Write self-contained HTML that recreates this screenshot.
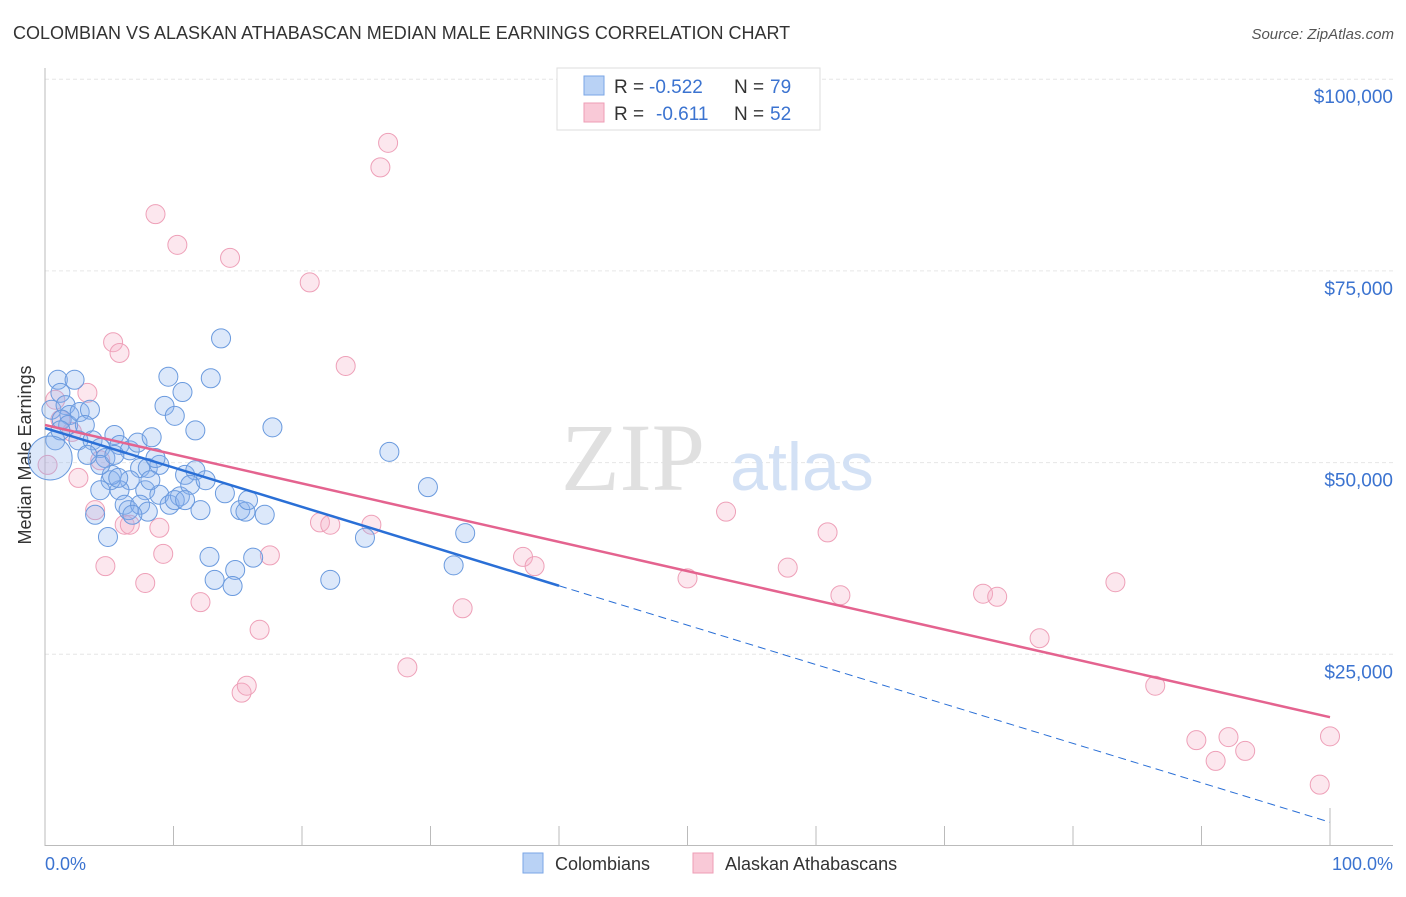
<!DOCTYPE html>
<html><head><meta charset="utf-8"><style>
body{margin:0;background:#fff;width:1406px;height:892px;overflow:hidden;font-family:"Liberation Sans",sans-serif}
</style></head><body>
<svg id="chart" width="1406" height="892" xmlns="http://www.w3.org/2000/svg">
<text x="13" y="39" font-size="18" fill="#333">COLOMBIAN VS ALASKAN ATHABASCAN MEDIAN MALE EARNINGS CORRELATION CHART</text>
<text x="1394" y="39" font-size="15" fill="#555" font-style="italic" text-anchor="end">Source: ZipAtlas.com</text>
<g id="grid"></g>
<text x="633" y="490" font-size="96" fill="#e0e0e0" font-family="Liberation Serif,serif" text-anchor="middle">ZIP</text>
<text x="802" y="490" font-size="68" fill="#d3e1f5" text-anchor="middle">atlas</text>
<line x1="45" y1="68" x2="45" y2="846" stroke="#bbb"/>
<line x1="45" y1="845.5" x2="1393" y2="845.5" stroke="#bbb"/>
<text x="31" y="455" font-size="18" fill="#333" text-anchor="middle" transform="rotate(-90 31 455)">Median Male Earnings</text>
<text x="45" y="870" font-size="18" fill="#3b73d0">0.0%</text>
<text x="1393" y="870" font-size="18" fill="#3b73d0" text-anchor="end">100.0%</text>
<g id="pts"></g>
<g id="trends"></g>
<g>
<rect x="557" y="68" width="263" height="62" fill="#fff" stroke="#ddd"/>
<rect x="584" y="76" width="20" height="19" fill="#b9d2f5" stroke="#7aa6e6"/>
<text x="614" y="93" font-size="19" fill="#333">R =</text>
<text x="649" y="93" font-size="19" fill="#3b73d0">-0.522</text>
<text x="734" y="93" font-size="19" fill="#333">N =</text>
<text x="770" y="93" font-size="19" fill="#3b73d0">79</text>
<rect x="584" y="103" width="20" height="19" fill="#f9c9d7" stroke="#ee9db6"/>
<text x="614" y="120" font-size="19" fill="#333">R =</text>
<text x="656" y="120" font-size="19" fill="#3b73d0">-0.611</text>
<text x="734" y="120" font-size="19" fill="#333">N =</text>
<text x="770" y="120" font-size="19" fill="#3b73d0">52</text>
</g>
<g>
<rect x="523" y="853" width="20" height="20" fill="#b9d2f5" stroke="#7aa6e6"/>
<text x="555" y="870" font-size="18" fill="#333">Colombians</text></g>
<g>
<rect x="693" y="853" width="20" height="20" fill="#f9c9d7" stroke="#ee9db6"/>
<text x="725" y="870" font-size="18" fill="#333">Alaskan Athabascans</text></g>
</svg>
<script>
const yTicks=[25000,50000,75000,100000];
const yTickLabels=["$25,000","$50,000","$75,000","$100,000"];
const xTicks=[0,10,20,30,40,50,60,70,80,90,100];
const blueX=[0.5,1.0,1.2,2.3,1.6,1.9,1.3,1.8,2.7,3.5,3.1,2.6,3.7,4.3,4.7,5.4,5.8,6.6,7.2,8.3,7.4,8.0,8.9,8.6,7.8,6.6,5.8,6.2,5.1,4.3,5.2,4.9,6.5,7.4,8.0,8.9,9.7,10.5,10.9,11.7,11.3,12.5,12.1,14.0,15.2,15.6,15.8,17.1,12.8,13.2,14.8,14.6,16.2,22.2,9.6,9.3,10.1,10.7,11.7,12.9,13.7,17.7,26.8,29.8,32.7,31.8,24.9,3.9,5.7,6.8,4.3,3.3,0.8,8.2,10.1,5.4,1.2,10.9];
const blueY=[56.9,60.8,59.1,60.8,57.5,56.2,55.6,54.9,56.6,56.9,54.9,52.9,52.9,51.9,50.6,53.6,52.3,51.6,52.6,53.3,49.3,49.3,49.7,50.6,46.4,47.7,46.4,44.5,47.7,46.4,48.4,40.3,43.8,44.5,43.6,45.8,44.5,45.6,48.4,49.0,47.1,47.7,43.8,46.0,43.8,43.6,45.1,43.2,37.7,34.7,36.0,33.9,37.6,34.7,61.2,57.4,56.1,59.2,54.2,61.0,66.2,54.6,51.4,46.8,40.8,36.6,40.2,43.2,48.0,43.2,49.7,51.0,52.9,47.7,45.1,51.0,54.2,45.1];
const pinkX=[26.7,26.1,8.6,10.3,14.4,20.6,5.3,5.8,23.4,3.3,0.8,1.2,2.1,4.3,2.6,0.2,3.9,6.2,6.6,4.7,7.8,9.2,8.9,12.1,16.7,15.3,15.7,17.5,21.4,22.2,25.4,28.2,32.5,37.2,38.1,50.0,53.0,57.8,60.9,61.9,73.0,74.1,77.4,83.3,86.4,89.6,91.1,92.1,93.4,99.2,100];
const pinkY=[91.7,88.5,82.4,78.4,76.7,73.5,65.7,64.3,62.6,59.1,58.2,55.6,54.0,50.3,48.0,49.7,43.8,41.9,41.9,36.5,34.3,38.1,41.5,31.8,28.2,20.0,20.9,37.9,42.2,41.9,41.9,23.3,31.0,37.7,36.5,34.9,43.6,36.3,40.9,32.7,32.9,32.5,27.1,34.4,20.9,13.8,11.1,14.2,12.4,8.0,14.3];
const blueTrend=[54.5,3.1];
const pinkTrend=[54.9,16.8];
const NS="http://www.w3.org/2000/svg";
const sx=v=>45+v*12.85;
const sy=v=>846-v*191.7/25000;
function mk(tag,attrs,parent){const e=document.createElementNS(NS,tag);for(const k in attrs)e.setAttribute(k,attrs[k]);document.getElementById(parent).appendChild(e);return e;}
yTicks.forEach((t,i)=>{
 const l=mk('line',{x1:45,x2:1393,y1:sy(t),y2:sy(t),stroke:'#e6e6e6','stroke-dasharray':'4,3'},'grid');
 
 
 const tx=mk('text',{x:1393,y:sy(t)+24,'font-size':19,fill:'#3b73d0','text-anchor':'end'},'grid');
 tx.textContent=yTickLabels[i];
 
 
});
xTicks.forEach(t=>{
 const l=mk('line',{x1:sx(t),x2:sx(t),y1:t==100?808:826,y2:846,stroke:'#bbb'},'grid');
 
 
});
function pts(X,Y,fill,stroke,name){
 X.forEach((x,i)=>{
  const c=mk('circle',{cx:sx(x),cy:sy(Y[i]*1000),r:9.5,fill:fill,stroke:stroke,'stroke-width':1},'pts');
  
  
 });
}
pts(pinkX,pinkY,'rgba(246,175,198,0.3)','#eea0b8','athabascan-point');
pts(blueX,blueY,'rgba(140,180,240,0.3)','#6a9ade','colombian-point');
const big=mk('circle',{cx:sx(0.4),cy:sy(50600),r:22,fill:'rgba(140,180,240,0.3)',stroke:'#6a9ade','stroke-width':1},'pts');


const bAt=x=>blueTrend[0]+(blueTrend[1]-blueTrend[0])*x/100;
const pAt=x=>pinkTrend[0]+(pinkTrend[1]-pinkTrend[0])*x/100;
let t1=mk('line',{x1:sx(0),y1:sy(bAt(0)*1000),x2:sx(40),y2:sy(bAt(40)*1000),stroke:'#2a6fd6','stroke-width':2.5},'trends');


let t2=mk('line',{x1:sx(40),y1:sy(bAt(40)*1000),x2:sx(100),y2:sy(bAt(100)*1000),stroke:'#2a6fd6','stroke-width':1,'stroke-dasharray':'8,5'},'trends');


let t3=mk('line',{x1:sx(0),y1:sy(pAt(0)*1000),x2:sx(100),y2:sy(pAt(100)*1000),stroke:'#e4638f','stroke-width':2.5},'trends');


</script>
</body></html>
